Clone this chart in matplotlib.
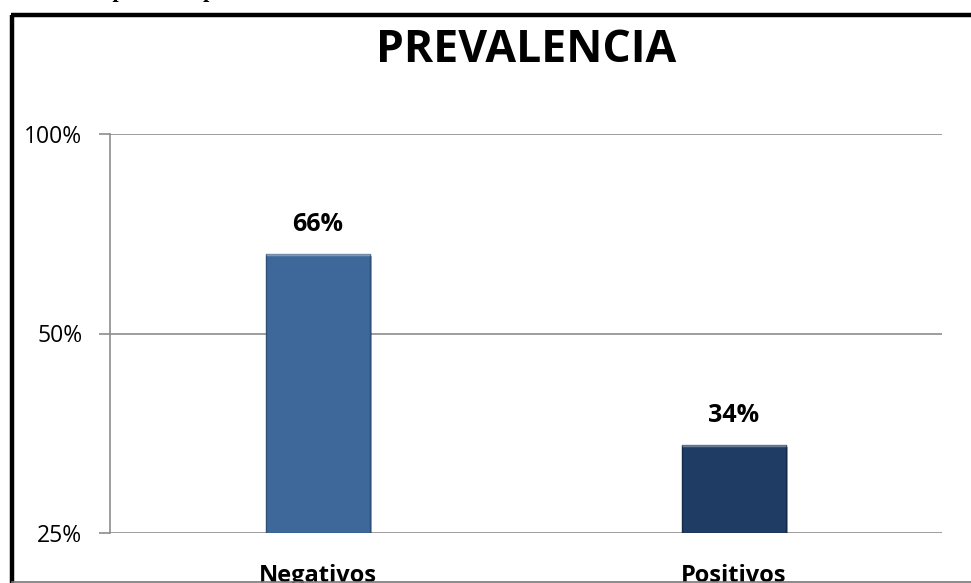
import numpy as np
import matplotlib
matplotlib.use('Agg')
import matplotlib.pyplot as plt
import matplotlib.patheffects as pe
from matplotlib.lines import Line2D

# data
categories = ['Negativos', 'Positivos']
values = [0.66, 0.34]
value_labels = ['66%', '34%']
ytick_vals = [0.25, 0.5, 1.0]
ytick_labels = ['25%', '50%', '100%']
bar_colors = ['#3d6899', '#1f3c64']
edge_colors = ['#2c4f78', '#142a49']

W, H = 971, 583
fig = plt.figure(figsize=(W / 100, H / 100), dpi=100)
fig.patch.set_facecolor('white')

# caption line of the page, mostly cropped away at the top edge
fig.text(-0.004, 1 + 3 / H, 'Prevalencia por hemoparásitos', family='Liberation Serif',
         fontweight='bold', fontsize=16, ha='left', va='baseline')

# chart frame (left and top thick black, bottom thin gray)
fig.add_artist(Line2D([12 / W, 12 / W], [1 - 14.5 / H, 0], color='black', lw=3.2,
                      transform=fig.transFigure, solid_capstyle='butt'))
fig.add_artist(Line2D([10.5 / W, 1.0], [1 - 14.5 / H, 1 - 14.5 / H], color='black', lw=3.2,
                      transform=fig.transFigure, solid_capstyle='butt'))
fig.add_artist(Line2D([12 / W, 1.0], [1.5 / H, 1.5 / H], color='#777777', lw=1.2,
                      transform=fig.transFigure))

ax = fig.add_axes([110 / W, 50 / H, 832 / W, 399 / H])
ax.set_yscale('log', base=2)
ymin, ymax = ytick_vals[0], ytick_vals[-1]
ax.set_ylim(ymin, ymax)
x = np.arange(len(categories))
ax.set_xlim(-0.5, len(categories) - 0.5)

bars = ax.bar(x, [v - ymin for v in values], bottom=ymin, width=0.25,
              color=bar_colors, edgecolor=edge_colors, linewidth=1.0, zorder=3)
for b in bars:
    b.set_path_effects([pe.SimplePatchShadow(offset=(1.5, -1.5), alpha=0.35), pe.Normal()])
    # lighter bevel along the top edge
    bx, by = b.get_x(), b.get_y() + b.get_height()
    ax.plot([bx, bx + b.get_width()], [by, by], color='white', alpha=0.35, lw=2.5,
            zorder=4, solid_capstyle='butt')

for xi, v, lab in zip(x, values, value_labels):
    ax.annotate(lab, (xi, v), xytext=(0, 12), textcoords='offset points', ha='center',
                va='bottom', fontsize=18, fontweight='bold', family='Open Sans')

ax.set_yticks(ytick_vals)
ax.set_yticklabels(ytick_labels, family='Open Sans', fontsize=16.5)
ax.yaxis.set_minor_locator(matplotlib.ticker.NullLocator())
ax.tick_params(axis='y', length=8, width=1.2, color='#8c8c8c', pad=12)
ax.set_xticks(x)
ax.set_xticklabels(categories, family='Open Sans', fontsize=17, fontweight='bold')
ax.tick_params(axis='x', length=0, pad=22)

ax.grid(axis='y', color='#8c8c8c', lw=1.2, zorder=0)
for s in ['top', 'right', 'bottom']:
    ax.spines[s].set_visible(False)
ax.spines['left'].set_color('#8c8c8c')
ax.spines['left'].set_linewidth(1.2)

fig.text((110 + 416) / W, 1 - 50 / H, 'PREVALENCIA', family='Open Sans', fontweight='bold',
         fontsize=32, ha='center', va='center')

fig.savefig('out.png', dpi=100)
